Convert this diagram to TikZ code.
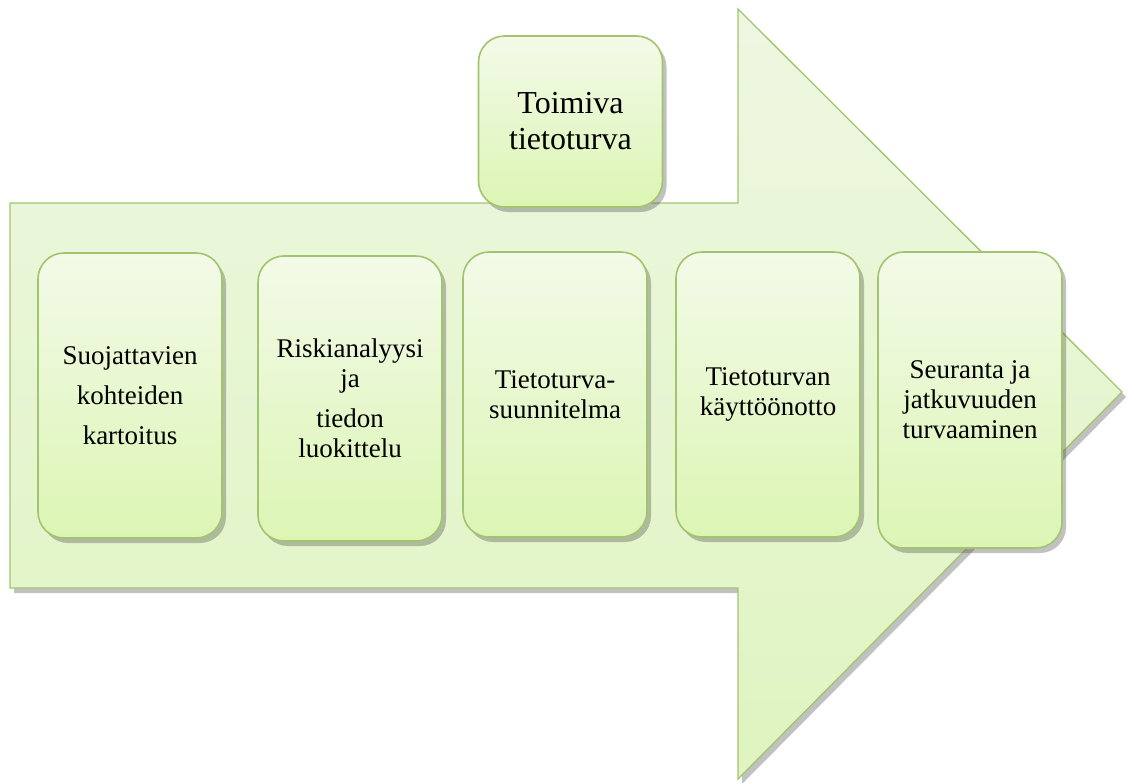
\documentclass[tikz,border=0pt]{standalone}
\usepackage{fontspec}
\setmainfont{Liberation Serif}
\usetikzlibrary{shadows}
\definecolor{edge}{HTML}{A3C46E}
\definecolor{ftop}{HTML}{F3FAE8}
\definecolor{fbot}{HTML}{DCF5B4}
\definecolor{atop}{HTML}{EEF7E2}
\definecolor{abot}{HTML}{DFF4C0}
\tikzset{
  shad/.style={drop shadow={shadow xshift=4pt, shadow yshift=-5pt, opacity=0.35, fill=black!70}},
  stepbox/.style={shad, draw=edge, line width=1.6pt, rounded corners=26pt, top color=ftop, bottom color=fbot,
    minimum width=184pt, align=center, inner sep=0pt},
  txt/.style={font=\fontsize{27}{40}\selectfont},
  txs/.style={font=\fontsize{27}{30}\selectfont},
}
\begin{document}
\begin{tikzpicture}[x=1pt,y=-1pt]
\useasboundingbox (0,0) rectangle (1131,782);
% big arrow
\path[shad, draw=edge, line width=1.3pt, top color=atop, bottom color=abot]
  (10,203) -- (738,203) -- (738,9) -- (1122,392) -- (738,779) -- (738,588) -- (10,588) -- cycle;
% top box
\node[stepbox, minimum height=171pt, font=\fontsize{32}{36}\selectfont] (t) at (570.5,121.5) {Toimiva\\tietoturva};
% step boxes
\node[stepbox, minimum height=285pt, txt] (b1) at (130,395.5) {Suojattavien\\kohteiden\\kartoitus};
\node[stepbox, minimum height=285pt, txs] (b2) at (350,398.5) {Riskianalyysi\\ja\\[10pt]tiedon\\luokittelu};
\node[stepbox, minimum height=285pt, txs] (b3) at (555,394.5) {Tietoturva-\\suunnitelma};
\node[stepbox, minimum height=285pt, txs] (b4) at (768,394.5) {Tietoturvan\\käyttöönotto};
\node[stepbox, minimum height=296pt, txs] (b5) at (970,400) {Seuranta ja\\jatkuvuuden\\turvaaminen};
\end{tikzpicture}
\end{document}
